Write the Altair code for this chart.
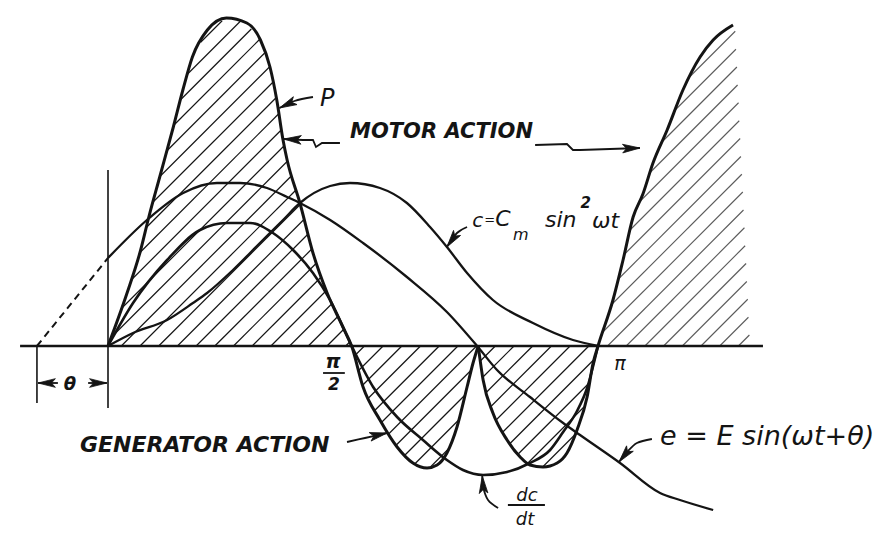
import math
import numpy as np
import pandas as pd
import altair as alt

# Electrical angle ωt in degrees (0..180 spans 0..π); heights in relative units.
# Power curve P (splits at the cusp where e changes sign)
P_X = [0, 7, 12, 15, 19, 24, 27.5, 31, 36.5, 43.5, 51, 56, 59.5, 62, 64.3, 65.8, 70.5, 75.3, 80.5, 86.3, 89.5,
       93.7, 99.9, 106.2, 112, 117.2, 120.9, 124.5, 128.2, 131.9, 134.1, 136,
       137.8, 141.4, 146.6, 151.4, 155, 159.8, 165, 168.6, 172.3, 176, 178.2, 180,
       185.5, 189.2, 192.9, 196.5, 200.2, 205.4, 211.2, 217.5, 222.3, 229.6]
P_Y = [0, 0.53, 0.96, 1.29, 1.69, 2.19, 2.56, 2.89, 3.16, 3.28, 3.23, 3.06, 2.79, 2.46, 2.06, 1.86, 1.43, 0.93, 0.53, 0.19, 0,
       -0.41, -0.74, -1.01, -1.17, -1.22, -1.19, -1.07, -0.81, -0.41, -0.17, 0,
       -0.34, -0.67, -0.94, -1.11, -1.19, -1.21, -1.17, -1.07, -0.84, -0.51, -0.17, 0,
       0.46, 0.86, 1.29, 1.52, 1.83, 2.16, 2.56, 2.89, 3.06, 3.21]
P_CUSP = 136

# Charge c = Cm sin²ωt
C_X = [0, 9.2, 21.7, 31.2, 36.4, 45.9, 55.8, 64.3, 70.5, 81.6, 88.9, 99.9, 109.8, 118.3, 124.5, 131.9, 141.4, 156.1, 170.8, 180]
C_Y = [0, 0.13, 0.26, 0.43, 0.53, 0.76, 1.03, 1.26, 1.43, 1.60, 1.63, 1.58, 1.43, 1.19, 0.99, 0.73, 0.46, 0.23, 0.06, 0]

# Voltage e = E sin(ωt+θ); the part before ωt = 0 is dashed
E_X = [0, 14.3, 27.6, 40, 48.5, 58.4, 65.8, 70.5, 81.6, 93.7, 109.8, 124.5, 135.6, 142.9, 155, 167.2, 173.4, 188.1, 202.8, 210.1, 222.3]
E_Y = [0.88, 1.26, 1.53, 1.63, 1.63, 1.58, 1.49, 1.43, 1.26, 1.03, 0.69, 0.34, 0, -0.24, -0.51, -0.77, -0.89, -1.17, -1.47, -1.54, -1.64]
E_DASH_X = [-26.1, 0]
E_DASH_Y = [0, 0.88]

# Current dc/dt
D_X = [0, 9.2, 21.7, 33.8, 43.7, 52.2, 60.6, 68, 75.3, 81.6, 89.5, 97.4, 106.2, 115.7, 124.5, 130.4, 137.8, 146.6, 155, 162.4, 167.2, 172.3, 176, 180]
D_Y = [0, 0.43, 0.86, 1.16, 1.23, 1.23, 1.13, 0.96, 0.73, 0.46, 0, -0.41, -0.71, -0.94, -1.14, -1.24, -1.29, -1.26, -1.17, -1.04, -0.86, -0.65, -0.42, 0]

THETA_DEG = -26.1

# Canvas geometry
W, H = 887, 541
ORIGIN_PX = (108, 346)
PX_PER_DEG = 490 / 180
PX_PER_UNIT = 100
X_DOMAIN = [-ORIGIN_PX[0] / PX_PER_DEG, (W - ORIGIN_PX[0]) / PX_PER_DEG]
Y_DOMAIN = [-(H - ORIGIN_PX[1]) / PX_PER_UNIT, ORIGIN_PX[1] / PX_PER_UNIT]

INK = "#141414"
FONT = "DejaVu Sans"

xs = alt.Scale(domain=X_DOMAIN, nice=False, zero=False)
ys = alt.Scale(domain=Y_DOMAIN, nice=False, zero=False)


def X(f):
    return alt.X(f, type="quantitative", scale=xs, axis=None)


def Y(f):
    return alt.Y(f, type="quantitative", scale=ys, axis=None)


# ---- 45° hatching between P and the ωt axis ----
HATCH_STEP = 18.7      # px between hatch lines along the axis
HATCH_PHASE = 32       # px offset of one hatch line from the origin
RIGHT_EDGE = (642, 627)  # px (from origin) where the hatching stops, at the axis and at the top


def hatch_segments():
    px = np.array(P_X) * PX_PER_DEG
    ph = np.array(P_Y) * PX_PER_UNIT
    x_pi = 180 * PX_PER_DEG
    top = ph[-1]
    hs = np.arange(-220, 360, 0.25)
    rows = []
    k0 = -int(300 / HATCH_STEP) - 2
    k1 = int(700 / HATCH_STEP) + 2
    for k in range(k0, k1):
        c = HATCH_PHASE + k * HATCH_STEP
        xx = hs + c
        p = np.interp(xx, px, ph, left=0.0, right=top)
        in_a = (xx >= 0) & (xx <= x_pi) & (
            ((p >= 0) & (hs >= 0) & (hs <= p)) | ((p < 0) & (hs <= 0) & (hs >= p)))
        xr = RIGHT_EDGE[0] - (RIGHT_EDGE[0] - RIGHT_EDGE[1]) * hs / top
        in_b = (xx > x_pi) & (xx <= xr) & (hs >= 0) & (hs <= p) & (hs <= top)
        for mask, zone in ((in_a, "main"), (in_b, "right")):
            m = mask.astype(int)
            d = np.diff(np.concatenate([[0], m, [0]]))
            starts = np.where(d == 1)[0]
            ends = np.where(d == -1)[0] - 1
            for s, e in zip(starts, ends):
                if hs[e] - hs[s] < 1.5:
                    continue
                rows.append(dict(x=xx[s] / PX_PER_DEG, y=hs[s] / PX_PER_UNIT,
                                 x2=xx[e] / PX_PER_DEG, y2=hs[e] / PX_PER_UNIT, zone=zone))
    return pd.DataFrame(rows)


hatch = hatch_segments()
hatch_main = alt.Chart(hatch[hatch.zone == "main"]).mark_rule(color=INK, strokeWidth=1.2).encode(
    x=X("x"), y=Y("y"), x2="x2", y2="y2")
hatch_right = alt.Chart(hatch[hatch.zone == "right"]).mark_rule(color=INK, strokeWidth=1.1, opacity=0.7).encode(
    x=X("x"), y=Y("y"), x2="x2", y2="y2")

# ---- axes drawn as lines ----
axis_h = alt.Chart(pd.DataFrame({"x": [-32.3], "x2": [240.6], "y": [0]})).mark_rule(
    color=INK, strokeWidth=2.6).encode(x=X("x"), x2="x2", y=Y("y"))
axis_v = alt.Chart(pd.DataFrame({"x": [0, THETA_DEG], "y": [1.76, 0], "y2": [-0.62, -0.57]})).mark_rule(
    color=INK, strokeWidth=1.6).encode(x=X("x"), y=Y("y"), y2="y2")

# ---- curves ----
cusp_i = P_X.index(P_CUSP)
p_df = pd.concat([
    pd.DataFrame({"x": P_X[:cusp_i + 1], "y": P_Y[:cusp_i + 1], "seg": 0}),
    pd.DataFrame({"x": P_X[cusp_i:], "y": P_Y[cusp_i:], "seg": 1}),
])
p_line = alt.Chart(p_df).mark_line(color=INK, strokeWidth=3, interpolate="monotone").encode(
    x=X("x"), y=Y("y"), detail="seg:N")
c_line = alt.Chart(pd.DataFrame({"x": C_X, "y": C_Y})).mark_line(
    color=INK, strokeWidth=2.3, interpolate="monotone").encode(x=X("x"), y=Y("y"))
e_line = alt.Chart(pd.DataFrame({"x": E_X, "y": E_Y})).mark_line(
    color=INK, strokeWidth=2.3, interpolate="monotone").encode(x=X("x"), y=Y("y"))
e_dash = alt.Chart(pd.DataFrame({"x": E_DASH_X, "y": E_DASH_Y})).mark_line(
    color=INK, strokeWidth=2, strokeDash=[7, 5]).encode(x=X("x"), y=Y("y"))
d_line = alt.Chart(pd.DataFrame({"x": D_X, "y": D_Y})).mark_line(
    color=INK, strokeWidth=2.6, interpolate="monotone").encode(x=X("x"), y=Y("y"))

# ---- leader arrows (shaft points end at the arrow tip) ----
ARROWS = {
    "p":       ([75.3, 68.5, 63.0], [2.49, 2.45, 2.38]),
    "motor_l": ([85.2, 78.6, 76.4, 75.3, 71.6, 64.6], [2.03, 2.03, 1.99, 2.06, 2.06, 2.07]),
    "motor_r": ([156.9, 168.6, 170.8, 173.4, 195.4], [2.01, 2.02, 1.96, 1.96, 1.98]),
    "c":       ([131.9, 128.2, 124.5], [1.19, 1.13, 0.99]),
    "gen":     ([87.8, 94.4, 102.5], [-0.96, -0.92, -0.87]),
    "dcdt":    ([143.3, 139.6, 137.8, 137.5], [-1.62, -1.54, -1.41, -1.30]),
    "e":       ([199.8, 194.3, 190.7, 187.7], [-0.93, -0.97, -1.06, -1.16]),
    "theta_l": ([-18.4, -25.7], [-0.37, -0.37]),
    "theta_r": ([-7.3, -0.4], [-0.37, -0.37]),
}
CURVED = {"p", "c", "dcdt", "e", "gen"}
HEAD_SIZE = 300
HEAD = "M0,-1L0.5,1L0,0.55L-0.5,1Z"   # tip at the top of the unit box
head_r = math.sqrt(HEAD_SIZE) / 2

shaft_rows, head_rows = [], []
for name, (ax, ay) in ARROWS.items():
    kind = "curved" if name in CURVED else "straight"
    for i, (px_, py_) in enumerate(zip(ax, ay)):
        shaft_rows.append(dict(name=name, kind=kind, i=i, x=px_, y=py_))
    dx = (ax[-1] - ax[-2]) * PX_PER_DEG
    dy = -(ay[-1] - ay[-2]) * PX_PER_UNIT
    n = math.hypot(dx, dy)
    ux, uy = dx / n, dy / n
    ang = math.degrees(math.atan2(dx, -dy)) % 360
    # symbol is centred on its anchor, so step back from the tip by its half length
    head_rows.append(dict(name=name,
                          x=ax[-1] - ux * head_r / PX_PER_DEG,
                          y=ay[-1] + uy * head_r / PX_PER_UNIT,
                          angle=ang))

shaft_df = pd.DataFrame(shaft_rows)
shafts_curved = alt.Chart(shaft_df[shaft_df.kind == "curved"]).mark_line(
    color=INK, strokeWidth=1.8, interpolate="cardinal").encode(
    x=X("x"), y=Y("y"), detail="name:N", order="i:Q")
shafts_straight = alt.Chart(shaft_df[shaft_df.kind == "straight"]).mark_line(
    color=INK, strokeWidth=1.8).encode(
    x=X("x"), y=Y("y"), detail="name:N", order="i:Q")
heads = alt.Chart(pd.DataFrame(head_rows)).mark_point(
    shape=HEAD, filled=True, fill=INK, stroke=INK, opacity=1, size=HEAD_SIZE, strokeWidth=0.8).encode(
    x=X("x"), y=Y("y"), angle=alt.Angle("angle:Q", scale=None))

# ---- labels ----
LABELS = [
    # text, x, y, size, weight, align
    ("P", 80.5, 2.47, 24, "normal", "center"),
    ("MOTOR ACTION", 88.9, 2.14, 21, "bold", "left"),
    ("GENERATOR ACTION", -10.3, -0.99, 22, "bold", "left"),
    ("c", 133.8, 1.25, 20, "normal", "left"),
    ("=", 140.2, 1.26, 13, "normal", "center"),
    ("C", 142.3, 1.27, 22, "normal", "left"),
    ("m", 148.8, 1.11, 16, "normal", "left"),
    ("sin", 160.5, 1.26, 22, "normal", "left"),
    ("2", 173.6, 1.43, 15, "bold", "left"),
    ("ωt", 177.8, 1.25, 22, "normal", "left"),
    ("π", 82.7, -0.16, 19, "bold", "center"),
    ("2", 83.0, -0.39, 17, "bold", "center"),
    ("π", 188.1, -0.18, 19, "normal", "center"),
    ("θ", -14.0, -0.39, 18, "bold", "center"),
    ("dc", 153.9, -1.50, 18, "normal", "center"),
    ("dt", 153.2, -1.74, 18, "normal", "center"),
    ("e = E sin(ωt+θ)", 202.8, -0.91, 27, "normal", "left"),
]
FRAC_BARS = {"x": [79.0, 146.9], "x2": [87.0, 160.5], "y": [-0.27, -1.59]}

label_layers = []
for (txt, lx, ly, size, weight, align) in LABELS:
    label_layers.append(
        alt.Chart(pd.DataFrame({"x": [lx], "y": [ly], "t": [txt]})).mark_text(
            font=FONT, fontSize=size, fontStyle="italic", fontWeight=weight,
            align=align, baseline="middle", color=INK).encode(x=X("x"), y=Y("y"), text="t:N"))

bars = alt.Chart(pd.DataFrame(FRAC_BARS)).mark_rule(color=INK, strokeWidth=1.8).encode(
    x=X("x"), x2="x2", y=Y("y"))

chart = alt.layer(
    hatch_main, hatch_right, axis_h, axis_v,
    e_dash, c_line, e_line, d_line, p_line,
    shafts_curved, shafts_straight, heads, bars, *label_layers,
).properties(
    width=W, height=H, padding=0, background="white",
    autosize=alt.AutoSizeParams(type="none"),
).configure_view(stroke=None)

chart.save("out.html", embed_options={"renderer": "svg", "actions": False})
